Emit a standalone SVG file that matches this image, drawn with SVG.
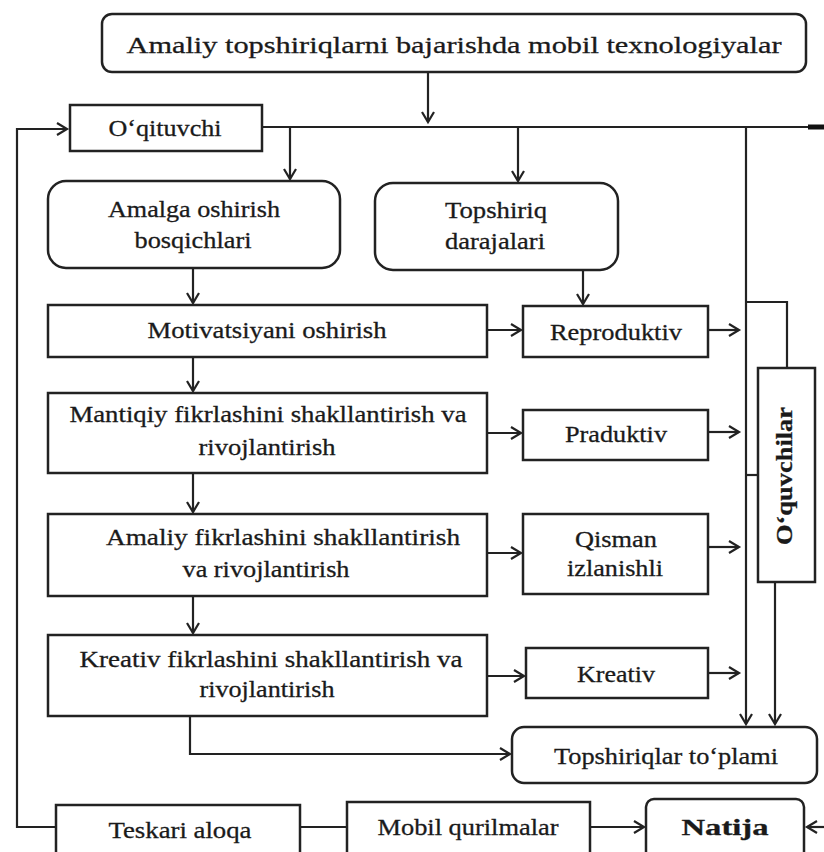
<svg xmlns="http://www.w3.org/2000/svg" width="824" height="852" viewBox="0 0 824 852">
<defs>
<style>
.bx{fill:#fff;stroke:#222;stroke-width:2.5}
.ln{fill:none;stroke:#222;stroke-width:2.2}
.t{font-family:"Liberation Serif","Times New Roman",serif;font-size:24px;fill:#1a1a1a;stroke:#1a1a1a;stroke-width:0.3;text-anchor:middle}
.b{font-weight:bold}
</style>
<marker id="ar" markerUnits="userSpaceOnUse" markerWidth="14" markerHeight="16" refX="11" refY="7" orient="auto">
<path d="M1,1 L11,7 L1,13" fill="none" stroke="#222" stroke-width="2.2"/>
</marker>
</defs>
<rect width="824" height="852" fill="#fff"/>
<g id="connectors">
<path class="ln" d="M428,72 V122" marker-end="url(#ar)"/>
<path class="ln" d="M262,127 H824"/>
<path d="M808,127 H824" stroke="#111" stroke-width="5"/>
<path class="ln" d="M290,127 V179" marker-end="url(#ar)"/>
<path class="ln" d="M518,127 V181" marker-end="url(#ar)"/>
<path class="ln" d="M746,127 V724" marker-end="url(#ar)"/>
<path class="ln" d="M746,302 H787 V368"/>
<path class="ln" d="M746,475 H758"/>
<path class="ln" d="M775,582 V724" marker-end="url(#ar)"/>
<path class="ln" d="M56,827 H17 V129 H67" marker-end="url(#ar)"/>
<path class="ln" d="M193,268 V303" marker-end="url(#ar)"/>
<path class="ln" d="M583,270 V304" marker-end="url(#ar)"/>
<path class="ln" d="M193,357 V391" marker-end="url(#ar)"/>
<path class="ln" d="M193,473 V512" marker-end="url(#ar)"/>
<path class="ln" d="M193,596 V633" marker-end="url(#ar)"/>
<path class="ln" d="M190,716 V754 H510" marker-end="url(#ar)"/>
<path class="ln" d="M487,330 H521" marker-end="url(#ar)"/>
<path class="ln" d="M487,433 H521" marker-end="url(#ar)"/>
<path class="ln" d="M487,553 H521" marker-end="url(#ar)"/>
<path class="ln" d="M487,676 H524" marker-end="url(#ar)"/>
<path class="ln" d="M708,330 H739" marker-end="url(#ar)"/>
<path class="ln" d="M708,432 H739" marker-end="url(#ar)"/>
<path class="ln" d="M708,547 H739" marker-end="url(#ar)"/>
<path class="ln" d="M708,673 H739" marker-end="url(#ar)"/>
<path class="ln" d="M300,827 H347"/>
<path class="ln" d="M590,827 H644" stroke-width="3" marker-end="url(#ar)"/>
<path class="ln" d="M826,827 H807" marker-end="url(#ar)"/>
</g>
<g id="top">
<rect class="bx" x="102" y="14" width="704" height="58" rx="10"/>
<text class="t" x="454" y="53" font-size="26" textLength="655" lengthAdjust="spacingAndGlyphs">Amaliy topshiriqlarni bajarishda mobil texnologiyalar</text>
</g>
<g id="oqituvchi">
<rect class="bx" x="70" y="105" width="192" height="46"/>
<text class="t" x="165" y="136" textLength="113" lengthAdjust="spacingAndGlyphs">O‘qituvchi</text>
</g>
<g id="amalga">
<rect class="bx" x="48" y="181" width="292" height="87" rx="18"/>
<text class="t" x="194" y="217" textLength="172" lengthAdjust="spacingAndGlyphs">Amalga oshirish</text>
<text class="t" x="193" y="248" textLength="117" lengthAdjust="spacingAndGlyphs">bosqichlari</text>
</g>
<g id="topshiriq">
<rect class="bx" x="375" y="183" width="243" height="87" rx="18"/>
<text class="t" x="496" y="218" textLength="102" lengthAdjust="spacingAndGlyphs">Topshiriq</text>
<text class="t" x="495" y="249" textLength="100" lengthAdjust="spacingAndGlyphs">darajalari</text>
</g>
<g id="motivatsiya">
<rect class="bx" x="48" y="305" width="439" height="52"/>
<text class="t" x="267" y="338" textLength="239" lengthAdjust="spacingAndGlyphs">Motivatsiyani oshirish</text>
</g>
<g id="reproduktiv">
<rect class="bx" x="523" y="306" width="185" height="51"/>
<text class="t" x="616" y="340" textLength="132" lengthAdjust="spacingAndGlyphs">Reproduktiv</text>
</g>
<g id="mantiqiy">
<rect class="bx" x="48" y="393" width="439" height="80"/>
<text class="t" x="268" y="422" textLength="397" lengthAdjust="spacingAndGlyphs">Mantiqiy fikrlashini shakllantirish va</text>
<text class="t" x="267" y="455" textLength="137" lengthAdjust="spacingAndGlyphs">rivojlantirish</text>
</g>
<g id="praduktiv">
<rect class="bx" x="523" y="410" width="185" height="50"/>
<text class="t" x="616" y="442" textLength="102" lengthAdjust="spacingAndGlyphs">Praduktiv</text>
</g>
<g id="amaliy">
<rect class="bx" x="48" y="514" width="439" height="82"/>
<text class="t" x="283" y="545" textLength="354" lengthAdjust="spacingAndGlyphs">Amaliy  fikrlashini shakllantirish</text>
<text class="t" x="266" y="577" textLength="167" lengthAdjust="spacingAndGlyphs">va rivojlantirish</text>
</g>
<g id="qisman">
<rect class="bx" x="523" y="514" width="185" height="80"/>
<text class="t" x="616" y="547" textLength="82" lengthAdjust="spacingAndGlyphs">Qisman</text>
<text class="t" x="615" y="576" textLength="96" lengthAdjust="spacingAndGlyphs">izlanishli</text>
</g>
<g id="kreativ-fikr">
<rect class="bx" x="48" y="635" width="439" height="81"/>
<text class="t" x="271" y="667" textLength="383" lengthAdjust="spacingAndGlyphs">Kreativ fikrlashini shakllantirish va</text>
<text class="t" x="267" y="697" textLength="135" lengthAdjust="spacingAndGlyphs">rivojlantirish</text>
</g>
<g id="kreativ">
<rect class="bx" x="526" y="648" width="182" height="50"/>
<text class="t" x="616" y="682" textLength="78" lengthAdjust="spacingAndGlyphs">Kreativ</text>
</g>
<g id="oquvchilar">
<rect class="bx" x="758" y="368" width="57" height="214"/>
<text class="t b" transform="translate(785,476) rotate(-90)" x="0" y="7" font-size="20" textLength="138" lengthAdjust="spacingAndGlyphs">O‘quvchilar</text>
</g>
<g id="toplam">
<rect class="bx" x="512" y="727" width="305" height="56" rx="12"/>
<text class="t" x="666" y="764" textLength="224" lengthAdjust="spacingAndGlyphs">Topshiriqlar to‘plami</text>
</g>
<g id="teskari">
<rect class="bx" x="56" y="805" width="244" height="60"/>
<text class="t" x="180" y="838" textLength="143" lengthAdjust="spacingAndGlyphs">Teskari aloqa</text>
</g>
<g id="mobil">
<rect class="bx" x="347" y="802" width="243" height="63"/>
<text class="t" x="468" y="835" textLength="181" lengthAdjust="spacingAndGlyphs">Mobil qurilmalar</text>
</g>
<g id="natija">
<rect class="bx" x="646" y="799" width="158" height="66" rx="8"/>
<text class="t b" x="725" y="835" textLength="87" lengthAdjust="spacingAndGlyphs">Natija</text>
</g>
</svg>
